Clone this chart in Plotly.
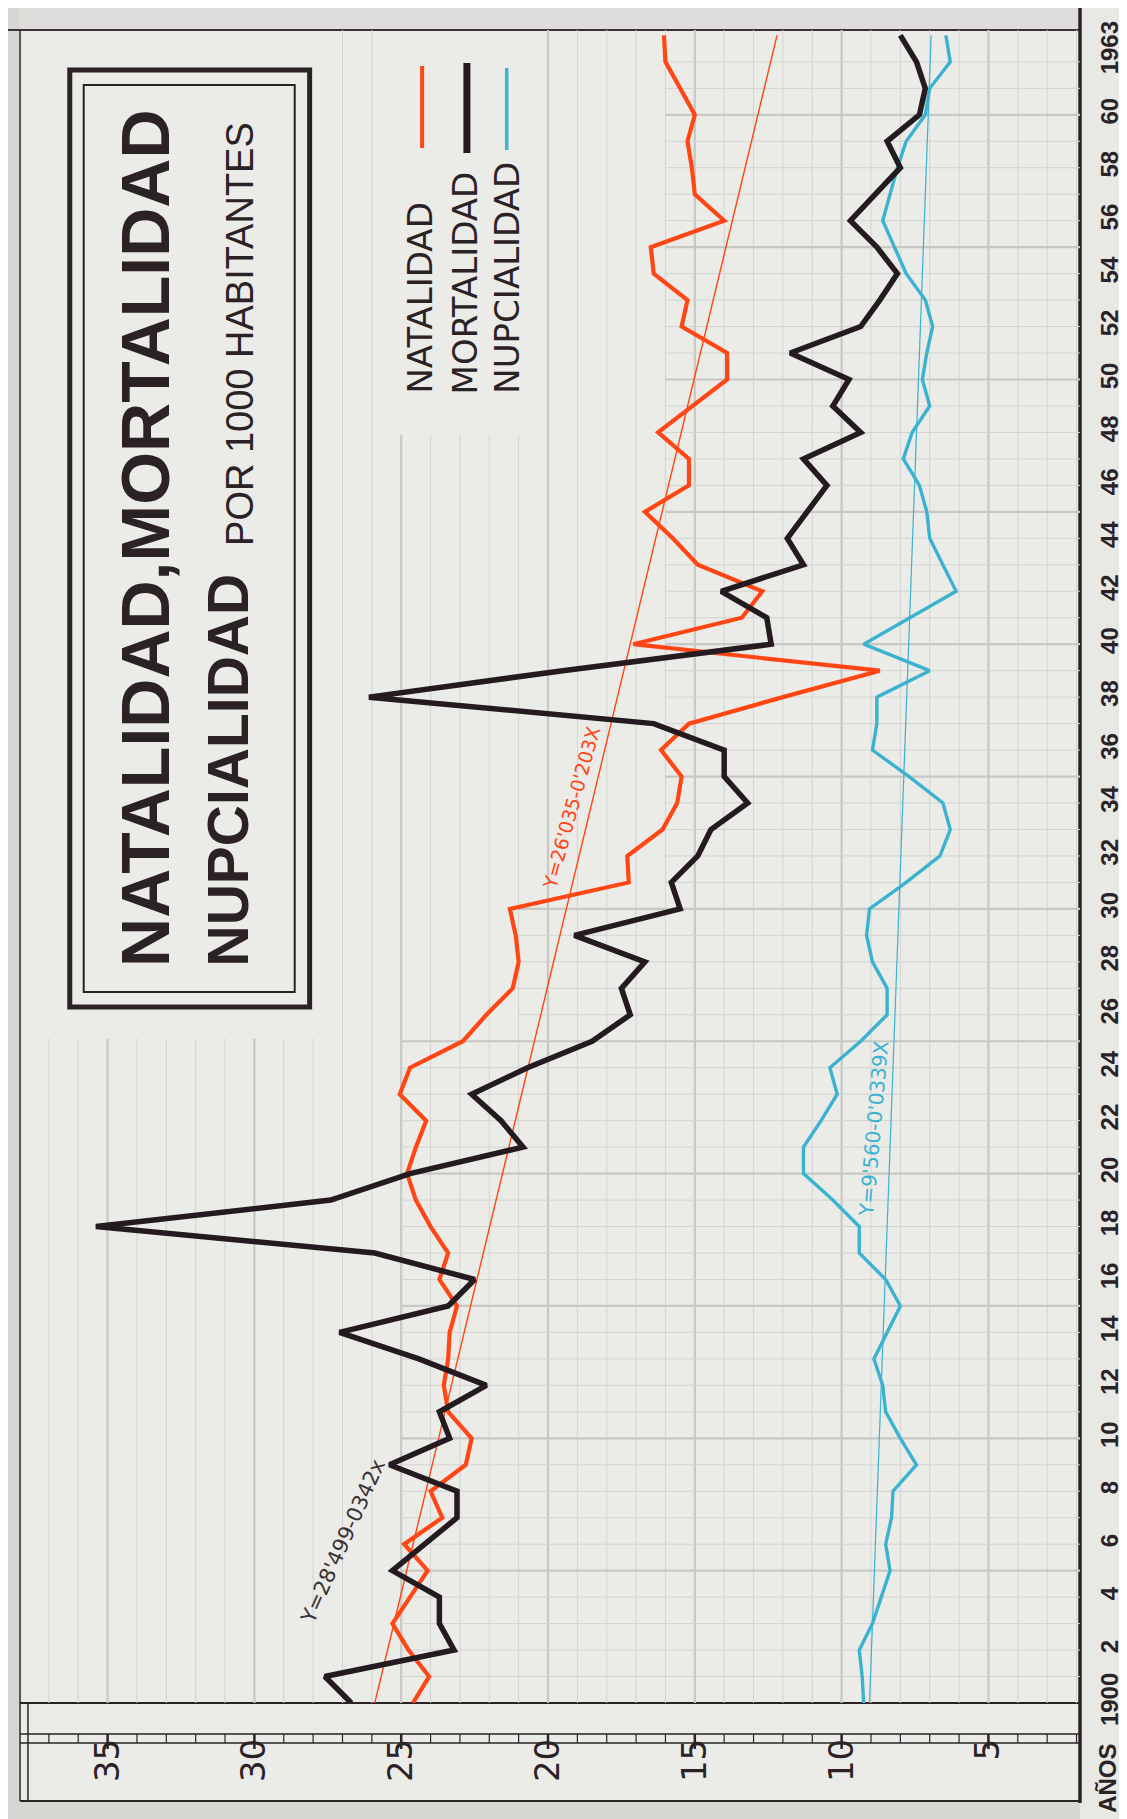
import plotly.graph_objects as go

# ---------------------------------------------------------------------------
# Data (rates per 1000 inhabitants, 1900-1963)
# ---------------------------------------------------------------------------
years = list(range(1900, 1964))

natalidad = [
    24.6, 24.05, 24.75, 25.3, 24.7, 24.1, 24.9, 23.6, 24.0, 22.8,
    22.6, 23.4, 23.55, 23.4, 23.35, 23.1, 23.7, 23.4, 24.0, 24.5,
    24.8, 24.5, 24.15, 25.05, 24.7, 22.9, 22.1, 21.2, 21.0, 21.1,
    21.3, 17.25, 17.3, 16.1, 15.6, 15.45, 16.15, 15.2, 12.0, 8.7,
    17.1, 13.4, 12.7, 14.9, 15.75, 16.7, 15.2, 15.2, 16.25, 15.1,
    13.9, 13.9, 15.45, 15.25, 16.4, 16.5, 14.0, 15.0, 15.1, 15.25,
    15.0, 15.5, 16.0, 16.05,
]

mortalidad = [
    26.7, 27.6, 23.2, 23.7, 23.7, 25.3, 24.2, 23.1, 23.1, 25.4,
    23.35, 23.7, 22.1, 24.4, 27.1, 23.4, 22.5, 25.9, 35.4, 27.4,
    24.7, 20.85, 21.6, 22.6, 20.7, 18.5, 17.2, 17.5, 16.7, 19.1,
    15.5, 15.8, 14.9, 14.45, 13.2, 14.0, 14.0, 16.4, 26.1, 19.5,
    12.4, 12.55, 14.1, 11.3, 11.85, 11.2, 10.5, 11.3, 9.35, 10.3,
    9.75, 11.75, 9.35, 8.7, 8.1, 8.8, 9.7, 8.85, 8.0, 8.45,
    7.35, 7.15, 7.45, 8.0,
]

nupcialidad = [
    9.25, 9.3, 9.4, 8.95, 8.65, 8.35, 8.5, 8.3, 8.25, 7.45,
    8.0, 8.5, 8.6, 8.9, 8.45, 8.0, 8.5, 9.4, 9.4, 10.3,
    11.3, 11.3, 10.7, 10.15, 10.4, 9.35, 8.45, 8.45, 8.95, 9.15,
    9.05, 7.8, 6.65, 6.3, 6.55, 7.7, 8.95, 8.8, 8.8, 7.0,
    9.25, 7.65, 6.1, 6.55, 7.0, 7.1, 7.35, 7.9, 7.6, 7.0,
    7.25, 7.1, 6.9, 7.15, 7.8, 8.2, 8.6, 8.35, 8.1, 7.8,
    7.15, 7.0, 6.3, 6.45,
]

# trend lines, end points
trend_years = [1900, 1963]
trend_natalidad = [25.9, 12.2]
trend_nupcialidad = [9.05, 6.95]

value_ticks = [35, 30, 25, 20, 15, 10, 5]
year_ticks = [1900] + list(range(1902, 1961, 2)) + [1962.4]
year_tick_text = ["1900"] + [str(y % 100) for y in range(1902, 1961, 2)] + ["1963"]

C_NAT = "#ff4614"
C_MOR = "#241b20"
C_NUP = "#3bb3d0"
INK = "#2b2226"
GRID = "#d3d3d0"
GRID_MAJOR = "#c7c7c4"
PAPER = "#ebebe8"

# plot area in pixels
PL, PR, PT, PB = 14, 1077, 22, 1695
X_RANGE = [35 + (100 - PL) / 29.5, 35 - (PR - 100) / 29.5]
Y_RANGE = [1900, 1900 + (PB - PT) / 26.47]


def px(x):
    return (x - PL) / (PR - PL)


def py(y):
    return (PB - y) / (PB - PT)


def pline(x0, y0, x1, y1, width, color=INK):
    return dict(type="line", xref="paper", yref="paper",
                x0=px(x0), y0=py(y0), x1=px(x1), y1=py(y1),
                line=dict(color=color, width=width), layer="below")


def prect(x0, y0, x1, y1, fill, width=0, color=INK):
    return dict(type="rect", xref="paper", yref="paper",
                x0=px(x0), y0=py(y0), x1=px(x1), y1=py(y1),
                fillcolor=fill, line=dict(color=color, width=width), layer="below")


def rtext(text, x, y, size, family, color=INK, weight="normal",
          xanchor="center", yanchor="middle", angle=-90):
    return dict(text=text, x=px(x), y=py(y), xref="paper", yref="paper",
                showarrow=False, textangle=angle, xanchor=xanchor, yanchor=yanchor,
                font=dict(family=family, size=size, color=color, weight=weight))


fig = go.Figure()

fig.add_trace(go.Scatter(x=trend_natalidad, y=trend_years, mode="lines",
                         line=dict(color=C_NAT, width=1.4), hoverinfo="skip"))
fig.add_trace(go.Scatter(x=trend_nupcialidad, y=trend_years, mode="lines",
                         line=dict(color=C_NUP, width=1.2), hoverinfo="skip"))
fig.add_trace(go.Scatter(x=nupcialidad, y=years, mode="lines", name="NUPCIALIDAD",
                         line=dict(color=C_NUP, width=3.4)))
fig.add_trace(go.Scatter(x=natalidad, y=years, mode="lines", name="NATALIDAD",
                         line=dict(color=C_NAT, width=4.2)))
fig.add_trace(go.Scatter(x=mortalidad, y=years, mode="lines", name="MORTALIDAD",
                         line=dict(color=C_MOR, width=5.5)))

shapes = []
# page tones
shapes.append(prect(0, 0, 1077, 21, "#dedddb"))
shapes.append(prect(0, 0, 11, 1819, "#d6d6d3"))
shapes.append(prect(0, 1794, 1077, 1819, "#d6d6d3"))
shapes.append(prect(12, 1695, 1077, 1793, PAPER))

# graph paper: vertical lines (constant value)
for v in range(2, 38):
    top = Y_RANGE[1]
    if v >= 28:
        top = 1925.1
    elif 21 <= v <= 25:
        top = 1947.9
    major = v % 5 == 0
    shapes.append(dict(type="line", xref="x", yref="y", x0=v, x1=v, y0=1900, y1=top,
                       line=dict(color=GRID_MAJOR if major else GRID, width=2.2 if major else 1),
                       layer="below"))

# graph paper: horizontal lines (constant year)
for yr in range(1901, 1963):
    start = 25 if yr <= 1925 else (21 if yr <= 1930 else 16)
    major = yr % 5 == 0
    shapes.append(dict(type="line", xref="x", yref="y", x0=start, x1=X_RANGE[1], y0=yr, y1=yr,
                       line=dict(color=GRID_MAJOR if major else GRID, width=2.2 if major else 1),
                       layer="below"))

# frame
shapes.append(pline(0, 22, 1077, 22, 2, "#3b3337"))
shapes.append(pline(1077, 0, 1077, 1795, 3.5))
shapes.append(pline(12, 22, 12, 1793, 1.5))
shapes.append(pline(12, 1695, 1077, 1695, 2))
shapes.append(pline(20, 1695, 20, 1793, 1.5))
shapes.append(pline(12, 1726, 1077, 1726, 1.5))
shapes.append(pline(12, 1735, 1077, 1735, 1.5))
shapes.append(pline(12, 1793, 1077, 1793, 2))
for v in range(2, 38):
    major = v % 5 == 0
    shapes.append(dict(type="line", xref="x", yref="paper", x0=v, x1=v,
                       y0=py(1726), y1=py(1741 if major else 1735),
                       line=dict(color=INK, width=2.5 if major else 1.2), layer="below"))

# title box
shapes.append(prect(62, 62, 303, 999, PAPER, 5, INK))
shapes.append(prect(76, 77, 288, 984, "rgba(0,0,0,0)", 2, INK))

# legend samples
shapes.append(pline(416, 58, 416, 140, 4, C_NAT))
shapes.append(pline(461, 55, 461, 145, 7, C_MOR))
shapes.append(pline(501, 60, 501, 142, 3.5, C_NUP))

SANS = "Liberation Sans, Arial, sans-serif"
annotations = [
    rtext("NATALIDAD,MORTALIDAD", 138, 961, 68, SANS, weight="bold", yanchor="bottom"),
    rtext("NUPCIALIDAD", 221, 961, 57, SANS, weight="bold", yanchor="bottom"),
    rtext("POR 1000 HABITANTES", 233, 112, 38, SANS, yanchor="top"),
    rtext("NATALIDAD", 413, 388, 34, "DejaVu Sans", yanchor="bottom"),
    rtext("MORTALIDAD", 459, 388, 34, "DejaVu Sans", yanchor="bottom"),
    rtext("NUPCIALIDAD", 501, 388, 34, "DejaVu Sans", yanchor="bottom"),
    rtext("AÑOS", 1104, 1770, 24, SANS, weight="bold"),
    dict(text="Y=28'499-0342x", x=27.0, y=1906.1, xref="x", yref="y", showarrow=False,
         textangle=-66, font=dict(family="DejaVu Sans", size=21, color="#3a3236")),
    dict(text="Y=26'035-0'203X", x=19.2, y=1933.8, xref="x", yref="y", showarrow=False,
         textangle=-74.5, font=dict(family="DejaVu Sans", size=19, color=C_NAT)),
    dict(text="Y=9'560-0'0339X", x=8.92, y=1921.7, xref="x", yref="y", showarrow=False,
         textangle=-85, font=dict(family="DejaVu Sans", size=20, color=C_NUP)),
]

fig.update_layout(
    width=1127,
    height=1819,
    margin=dict(l=PL, r=1127 - PR, t=PT, b=1819 - PB),
    paper_bgcolor="#e8e8e5",
    plot_bgcolor=PAPER,
    showlegend=False,
    shapes=shapes,
    annotations=annotations,
    xaxis=dict(range=X_RANGE, showgrid=False, zeroline=False, showline=False,
               tickvals=value_ticks, ticks="", tickangle=-90, ticklabelstandoff=28,
               tickfont=dict(family="DejaVu Sans", size=34, color=INK)),
    yaxis=dict(range=Y_RANGE, side="right", showgrid=False, zeroline=False, showline=False,
               tickvals=year_ticks, ticktext=year_tick_text, ticks="", tickangle=-90,
               ticklabelstandoff=13,
               tickfont=dict(family=SANS, size=24, color=INK, weight="bold")),
)

fig.write_html("out.html")
